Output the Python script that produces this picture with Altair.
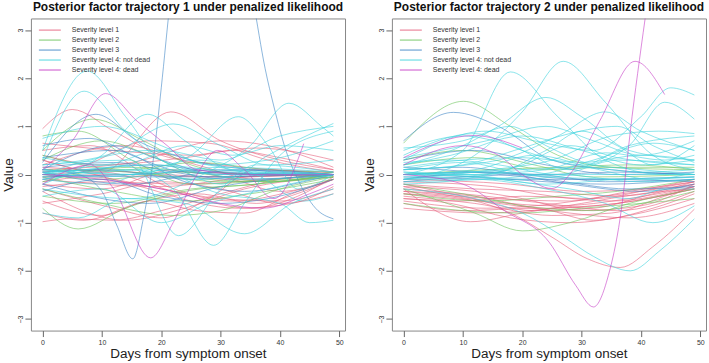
import altair as alt
import pandas as pd

# Legend entries and their colours
GROUPS = [
    "Severity level 1",
    "Severity level 2",
    "Severity level 3",
    "Severity level 4: not dead",
    "Severity level 4: dead",
]
COLORS = ["#E5607C", "#6CC45C", "#3F86C6", "#3FD3DE", "#C63CC6"]

X_TICKS = [0, 10, 20, 30, 40, 50]
Y_TICKS = [-3, -2, -1, 0, 1, 2, 3]

# Factor trajectory 1: key points (day, value) of each subject's curve
T1_SEV1 = [
    [(0, -0.98), (5, -0.92), (12, -0.95), (20, -0.75), (30, -0.4), (40, -0.1), (49, 0.0)],
    [(0, 0.95), (5, 1.35), (12, 0.9), (20, 0.4), (30, 0.2), (49, 0.05)],
    [(0, 0.3), (10, 0.05), (21.6, 1.3), (30, 0.7), (40, 0.3), (49, 0.1)],
    [(0, -0.3), (12, -0.7), (20, -0.9), (28, -0.5), (36, 0.1), (49, 0.0)],
    [(0, 0.5), (8, 0.6), (20, -0.2), (32, -0.55), (42, -0.35), (49, -0.1)],
    [(0, -0.55), (10, -0.85), (18, -0.55), (26, -0.75), (34, -0.8), (42, -0.4), (49, -0.1)],
    [(0, 0.1), (15, 0.25), (30, 0.7), (38, 0.6), (49, 0.15)],
    [(0, -0.2), (10, -0.3), (22, 0.1), (32, -0.1), (40, -0.35), (49, -0.1)],
    [(0, 0.3), (15, -0.2), (33, -0.7), (42, -0.6), (49, -0.25)],
    [(0, -0.1), (20, -0.25), (35, -0.05), (49, 0.0)],
    [(0, 0.65), (12, 0.5), (25, 0.4), (32, 0.5), (40, 0.35), (49, 0.1)],
    [(0, -0.8), (7, -0.95), (16, -0.6), (26, -0.4), (36, -0.6), (44, -0.35), (49, -0.1)],
    [(0, 0.0), (10, 0.05), (22, -0.35), (35, -0.7), (43, -0.45), (49, -0.05)],
    [(0, 0.2), (14, 0.6), (26, 0.2), (36, -0.1), (49, 0.0)],
    [(0, -0.35), (14, -0.95), (24, -0.7), (34, -0.3), (49, -0.05)],
    [(0, 0.05), (6, 0.15), (18, 0.7), (28, 0.65), (38, 0.3), (49, 0.05)],
    [(0, -0.15), (8, -0.05), (20, -0.3), (30, -0.5), (40, -0.55), (49, -0.3)],
    [(0, 0.4), (10, 0.2), (24, 0.35), (36, 0.55), (49, 0.3)],
    [(0, -0.6), (10, -0.4), (20, -0.15), (30, -0.3), (40, -0.6), (49, -0.4)],
    [(0, -0.05), (12, 0.0), (28, -0.05), (49, 0.0)],
    [(0, 0.15), (15, 0.05), (30, -0.05), (49, 0.05)],
    [(0, -0.25), (10, -0.15), (24, -0.2), (38, -0.1), (49, 0.0)],
]
T1_SEV2 = [
    [(0, 0.5), (8.5, 1.15), (17, 0.7), (25, 0.2), (35, 0.0), (49, 0.0)],
    [(0, -0.7), (6, -1.13), (14, -0.7), (24, -0.35), (36, -0.2), (49, 0.0)],
    [(0, 0.3), (10, 0.7), (18, 0.4), (28, -0.1), (38, -0.15), (49, 0.0)],
    [(0, -0.3), (10, -0.6), (22, -0.85), (30, -0.75), (40, -0.3), (49, -0.05)],
    [(0, 0.1), (15, 0.05), (30, -0.15), (49, -0.05)],
    [(0, 0.8), (6, 0.9), (15, 0.3), (25, -0.2), (35, -0.15), (49, 0.05)],
    [(0, -0.15), (15, 0.15), (28, 0.0), (38, -0.15), (49, -0.05)],
    [(0, -0.45), (12, -0.6), (25, -0.3), (36, -0.2), (49, 0.0)],
    [(0, 0.4), (14, 0.1), (26, 0.25), (38, 0.1), (49, 0.05)],
    [(0, -0.05), (12, -0.35), (24, -0.55), (35, -0.4), (49, -0.1)],
    [(0, 0.0), (10, -0.1), (24, 0.05), (40, 0.0), (49, 0.0)],
]
T1_SEV3 = [
    [(0, 0.25), (9, 1.25), (16, 0.7), (25, 0.3), (35, 0.1), (49, 0.0)],
    [(0, 0.1), (12, 0.6), (20, 0.3), (30, 0.0), (49, 0.0)],
    [(0, -0.1), (18, 0.2), (30, 0.05), (49, 0.0)],
    [(0, 0.0), (20, -0.05), (49, 0.0)],
    [(0, -0.2), (18, -0.6), (30, -0.25), (49, 0.0)],
    [(0, 0.35), (12, 0.5), (24, -0.15), (34, -0.35), (44, -0.15), (49, 0.0)],
    [(0, 0.05), (15, -0.2), (25, 0.0), (35, 0.1), (49, 0.0)],
    [(0, 0.1), (6, 0.0), (10, -0.35), (12.5, -1.05), (15.2, -1.75), (17, -0.9),
     (18.7, 0.35), (20, 1.8), (21.5, 3.6), (28, 8.0), (35.5, 3.6), (37.5, 2.2),
     (39, 1.4), (41, 0.5), (43, -0.1), (46, -0.7), (49, -0.92)],
    [(0, -0.35), (10, -0.1), (20, -0.45), (30, -0.6), (38, -0.5), (49, -0.1)],
    [(0, 0.6), (8, 0.75), (16, 0.35), (24, 0.05), (49, 0.0)],
    [(0, 0.05), (10, 0.1), (25, -0.1), (40, 0.0), (49, 0.0)],
    [(0, -0.05), (15, 0.0), (30, 0.1), (49, 0.0)],
    [(0, 0.15), (12, 0.25), (22, 0.05), (32, -0.1), (49, -0.02)],
]
T1_SEV4_ALIVE = [
    [(0, 0.5), (7.5, 2.15), (14, 1.2), (20, 0.3), (30, 0.0), (49, 0.0)],
    [(0, 0.3), (7, 1.73), (14, 0.9), (22, 0.2), (35, 0.05), (49, 0.0)],
    [(0, -0.2), (10, 0.4), (17.7, 1.25), (24, 0.7), (32, 0.1), (49, 0.0)],
    [(0, 0.2), (15, 0.3), (22.9, -1.27), (30, -0.3), (36, 0.2), (49, 0.05)],
    [(0, 0.0), (12, 0.2), (22, -0.3), (28.8, -1.47), (34, -0.6), (40, 0.4), (49, 0.9)],
    [(0, 0.1), (15, 0.0), (25, 0.4), (33, 1.2), (38, 0.6), (43, -0.3), (49, 0.0)],
    [(0, -0.3), (15, -0.5), (27, 0.0), (35, 0.6), (41.5, 1.48), (47, 1.0), (49, 0.8)],
    [(0, 0.0), (20, 0.2), (30, -0.2), (38, 0.4), (49, 1.06)],
    [(0, -0.8), (6, -0.9), (14, -0.5), (24, -0.6), (34, -1.23), (42, -0.6), (49, -0.3)],
    [(0, 0.75), (10, 1.0), (20, 0.6), (28, 0.2), (38, 0.3), (49, 0.7)],
    [(0, 0.05), (14, 0.2), (24, 0.6), (32, 0.4), (40, 0.6), (49, 0.5)],
    [(0, -0.1), (10, -0.2), (18, 0.1), (26, 0.3), (36, 0.0), (44, -0.55), (49, -0.4)],
    [(0, 0.2), (12, 0.45), (22, 1.05), (30, 0.6), (38, 0.2), (49, 0.3)],
    [(0, -0.1), (18, 0.1), (30, -0.4), (40, -0.6), (45, -1.0), (49, -0.95)],
    [(0, 0.35), (10, 0.2), (20, 0.5), (30, 0.3), (40, 0.8), (49, 1.0)],
    [(0, -0.45), (10, -0.3), (20, -1.0), (28, -0.6), (38, -0.3), (49, 0.0)],
    [(0, 0.05), (10, -0.05), (22, 0.1), (35, -0.1), (49, 0.0)],
    [(0, -0.05), (14, 0.1), (26, -0.1), (40, 0.05), (49, 0.0)],
    [(0, 0.1), (16, 0.0), (30, 0.15), (49, 0.05)],
    [(0, 0.0), (8, 0.3), (18, 0.5), (28, 0.2), (38, 0.0), (49, 0.0)],
]
T1_SEV4_DEAD = [
    [(0, 0.1), (5, 0.7), (10.6, 1.68), (16, 1.1), (21, 0.6), (26, 0.1), (35, 0.0), (49, 0.0)],
    [(0, -0.2), (8, 0.2), (12, -0.3), (18.2, -1.73), (22, -1.0), (26, 0.0), (29.5, 0.5),
     (34, 0.1), (39, -0.5), (44, 0.64)],
    [(0, 0.0), (10, -0.1), (20, -0.3), (30, -0.6), (37, -0.7), (45, -0.4), (49, -0.2)],
]

# Factor trajectory 2
T2_SEV1 = [
    [(0, -0.2), (10, -0.45), (22, -0.75), (32, -0.7), (42, -0.4), (49, -0.2)],
    [(0, -0.3), (11.3, -0.98), (20, -0.8), (30, -0.6), (40, -0.4), (49, -0.3)],
    [(0, -0.45), (12, -0.6), (25, -0.85), (35, -0.8), (44, -0.45), (49, -0.25)],
    [(0, -0.6), (10, -0.75), (22, -0.7), (32, -0.95), (42, -0.7), (49, -0.4)],
    [(0, -0.35), (15, -0.5), (28, -0.55), (38, -0.35), (49, -0.15)],
    [(0, -0.25), (12, -0.35), (20, -0.5), (30, -0.75), (40, -0.65), (49, -0.2)],
    [(0, -0.4), (10, -0.5), (18, -0.8), (25, -1.3), (31, -1.75), (36.5, -1.93), (42, -1.5), (49, -0.72)],
    [(0, -0.55), (14, -0.7), (26, -0.6), (34, -0.45), (49, -0.2)],
    [(0, -0.15), (15, -0.25), (25, -0.45), (35, -0.55), (49, -0.25)],
    [(0, -0.5), (8, -0.6), (18, -0.9), (28, -1.0), (38, -0.85), (49, -0.5)],
    [(0, -0.3), (10, -0.4), (24, -0.6), (36, -0.75), (49, -0.35)],
    [(0, -0.7), (14, -0.8), (26, -0.7), (36, -0.6), (49, -0.3)],
    [(0, -0.2), (12, -0.3), (24, -0.35), (36, -0.45), (49, -0.15)],
    [(0, -0.4), (16, -0.6), (28, -0.8), (38, -0.9), (49, -0.6)],
    [(0, -0.1), (18, -0.2), (30, -0.35), (40, -0.3), (49, -0.1)],
    [(0, -0.5), (10, -0.55), (20, -0.45), (32, -0.5), (42, -0.3), (49, -0.15)],
    [(0, -0.35), (12, -0.45), (24, -0.7), (36, -0.6), (49, -0.3)],
    [(0, -0.25), (14, -0.55), (26, -0.65), (38, -0.5), (49, -0.25)],
]
T2_SEV2 = [
    [(0, 0.65), (10.1, 1.52), (18, 1.0), (26, 0.4), (35, 0.15), (49, 0.1)],
    [(0, -0.3), (12, -0.8), (20, -1.17), (28, -1.0), (38, -0.6), (49, -0.3)],
    [(0, -0.2), (10, -0.4), (20, -0.65), (32, -0.75), (42, -0.55), (49, -0.35)],
    [(0, 0.2), (12, 0.35), (24, 0.1), (34, 0.15), (49, 0.15)],
    [(0, -0.4), (14, -0.55), (26, -0.45), (36, -0.35), (49, -0.1)],
    [(0, -0.6), (10, -0.75), (20, -0.8), (30, -0.7), (40, -0.6), (49, -0.5)],
    [(0, 0.0), (14, 0.1), (26, 0.15), (38, 0.2), (49, 0.1)],
    [(0, 0.3), (10, 0.5), (22, 0.2), (32, -0.05), (49, 0.0)],
]
T2_SEV3 = [
    [(0, 0.7), (8.4, 1.29), (16, 1.0), (25, 0.3), (35, 0.1), (49, 0.0)],
    [(0, 0.1), (10, 0.15), (20, 0.0), (30, -0.1), (49, -0.05)],
    [(0, 0.0), (12, -0.05), (24, -0.15), (34, -0.2), (49, -0.1)],
    [(0, -0.1), (14, 0.05), (28, -0.2), (40, -0.35), (49, -0.2)],
    [(0, 0.3), (12, 0.5), (24, 0.2), (36, 0.0), (49, 0.05)],
    [(0, -0.05), (20, -0.1), (34, -0.1), (49, -0.15)],
    [(0, 0.15), (12, 0.05), (24, -0.1), (38, -0.3), (49, -0.25)],
    [(0, -0.15), (10, -0.05), (22, 0.0), (34, -0.15), (49, -0.1)],
    [(0, 0.0), (12, 0.05), (24, 0.0), (36, 0.05), (49, 0.0)],
]
T2_SEV4_ALIVE = [
    [(0, 0.0), (10, 0.5), (18, 2.13), (26, 1.2), (34, 0.3), (44, 0.0), (49, 0.0)],
    [(0, -0.1), (12, 0.4), (20, 1.3), (26.9, 2.35), (34, 1.5), (42, 0.4), (49, 0.1)],
    [(0, 0.2), (10, 0.6), (16, 1.0), (24, 1.6), (30, 1.2), (38, 0.5), (49, 0.3)],
    [(0, 0.3), (14, 0.9), (22, 0.7), (32, 0.5), (40, 1.2), (45, 1.8), (49, 1.65)],
    [(0, 0.1), (16, 0.3), (26, 0.8), (34, 1.3), (40, 0.9), (49, 0.5)],
    [(0, 0.4), (12, 0.85), (20, 0.5), (30, 0.2), (38, 0.6), (44, 1.5), (49, 1.15)],
    [(0, 0.0), (14, 0.0), (24, 0.5), (30, 0.9), (36, 0.6), (42, 0.2), (49, 0.6)],
    [(0, 0.5), (10, 0.8), (18, 0.6), (28, 0.1), (38, 0.6), (49, 0.8)],
    [(0, 0.2), (8, 0.4), (20, 0.8), (30, 0.5), (40, 0.2), (49, 0.3)],
    [(0, -0.1), (15, 0.1), (25, 0.3), (35, 0.8), (43, 0.9), (49, 0.85)],
    [(0, 0.1), (10, 0.25), (22, 0.0), (32, 0.3), (42, 0.65), (49, 0.5)],
    [(0, 0.0), (12, 0.1), (22, 0.4), (33, 0.1), (42, -0.1), (49, 0.05)],
    [(0, -0.2), (10, -0.1), (20, 0.2), (28, 0.6), (36, 0.35), (49, 0.2)],
    [(0, 0.35), (14, 0.7), (24, 1.0), (32, 0.7), (40, 0.4), (49, 0.7)],
    [(0, 0.05), (16, -0.1), (28, -0.3), (38, -0.5), (44, -0.3), (49, -0.3)],
    [(0, -0.3), (12, -0.5), (20, -0.8), (27, -1.3), (32, -1.7), (38.2, -2.0), (43, -1.6), (49, -0.92)],
    [(0, -0.1), (12, -0.1), (24, -0.3), (34, -0.6), (42, -1.0), (49, -0.65)],
    [(0, 0.15), (10, 0.3), (20, 0.35), (30, 0.25), (40, 0.4), (49, 0.3)],
    [(0, 0.0), (20, 0.1), (30, 0.15), (40, 0.05), (49, 0.1)],
    [(0, 0.25), (8, 0.3), (16, 0.2), (26, 0.0), (36, 0.3), (49, 0.2)],
    [(0, -0.05), (12, 0.0), (24, 0.1), (34, 0.45), (44, 0.3), (49, 0.4)],
    [(0, 0.1), (10, 0.2), (20, 0.55), (28, 0.85), (36, 1.0), (42, 0.6), (49, 0.25)],
    [(0, 0.55), (10, 0.7), (18, 1.0), (24, 0.6), (32, 0.2), (40, 0.1), (49, 0.0)],
    [(0, 0.0), (15, 0.05), (25, -0.05), (40, -0.1), (49, -0.05)],
    [(0, -0.1), (12, -0.05), (24, -0.2), (36, -0.1), (49, -0.05)],
    [(0, 0.05), (10, 0.0), (20, -0.1), (30, 0.0), (49, 0.0)],
    [(0, -0.15), (14, -0.1), (26, 0.0), (40, -0.15), (49, -0.1)],
]
T2_SEV4_DEAD = [
    [(0, 0.35), (11.8, 0.81), (20, 0.55)],
    [(0, 0.2), (10, 0.6), (16, 0.4), (20, 0.0), (25, -0.29), (28, 0.0), (33, 1.1), (39, 2.35), (44, 1.66)],
    [(0, 0.0), (10, -0.2), (17, -0.75), (24.5, -1.4), (29, -2.3), (32, -2.75), (34.5, -2.1),
     (36.5, -0.9), (38.5, 1.2), (41, 3.5)],
]


def frame(curve_sets):
    rows = []
    for group, curves in zip(GROUPS, curve_sets):
        for k, pts in enumerate(curves):
            for day, val in pts:
                rows.append({"group": group, "curve": f"{group} #{k}", "day": day, "value": val})
    return pd.DataFrame(rows)


def panel(df, title):
    x = alt.X(
        "day:Q",
        scale=alt.Scale(domain=[-1.96, 50.96], nice=False, zero=False),
        axis=alt.Axis(values=X_TICKS, title="Days from symptom onset", format="d",
                      labelPadding=2, titlePadding=1),
    )
    y = alt.Y(
        "value:Q",
        scale=alt.Scale(domain=[-3.24, 3.24], nice=False, zero=False),
        axis=alt.Axis(values=Y_TICKS, title="Value", format="d", labelAngle=270,
                      labelAlign="center", labelBaseline="bottom", labelPadding=1,
                      titlePadding=1),
    )
    color = alt.Color(
        "group:N",
        scale=alt.Scale(domain=GROUPS, range=COLORS),
        legend=alt.Legend(title=None, orient="top-left", offset=7, padding=0,
                          symbolType="stroke", symbolSize=484, symbolStrokeWidth=1.5,
                          labelFontSize=7, labelColor="#333333", labelOffset=10,
                          clipHeight=9.4, rowPadding=0),
    )
    return (
        alt.Chart(df)
        .mark_line(interpolate="monotone", clip=True, strokeWidth=1, opacity=0.6)
        .encode(x=x, y=y, color=color, detail="curve:N")
        .properties(
            width=315,
            height=313,
            title=alt.TitleParams(title, fontSize=12, fontWeight="bold", anchor="middle", offset=4),
        )
    )


left = panel(frame([T1_SEV1, T1_SEV2, T1_SEV3, T1_SEV4_ALIVE, T1_SEV4_DEAD]),
             "Posterior factor trajectory 1 under penalized likelihood")
right = panel(frame([T2_SEV1, T2_SEV2, T2_SEV3, T2_SEV4_ALIVE, T2_SEV4_DEAD]),
              "Posterior factor trajectory 2 under penalized likelihood")

chart = (
    alt.hconcat(left, right, spacing=16)
    .resolve_scale(color="independent")
    .properties(padding={"left": 1, "top": 0, "right": 2, "bottom": 0})
    .configure(font="Liberation Sans")
    .configure_view(stroke="#888888", strokeWidth=1)
    .configure_axis(grid=False, domain=False, labelFontSize=7, labelColor="#333333",
                    tickColor="#666666", tickSize=6,
                    titleFontSize=13.5, titleFontWeight="normal", titleColor="#222222")
    .configure_title(color="#111111")
)

chart.save("out.html", embed_options={"renderer": "svg", "actions": False})
